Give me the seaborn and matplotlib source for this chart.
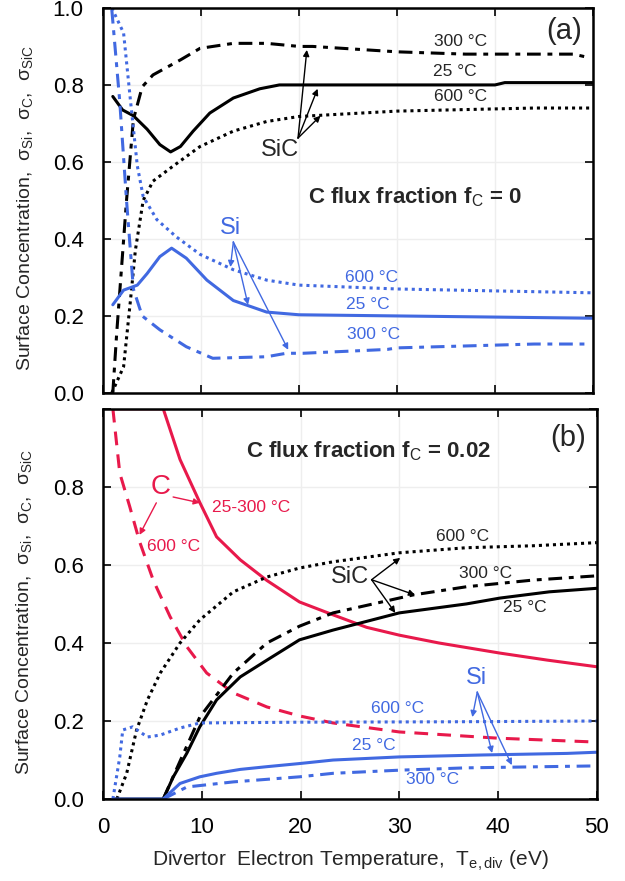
import numpy as np
import pandas as pd
import matplotlib
matplotlib.use("Agg")
import matplotlib.pyplot as plt
import seaborn as sns

sns.set_theme(style="white")
plt.rcParams['font.family'] = ['Liberation Sans', 'DejaVu Sans']
plt.rcParams['mathtext.fontset'] = 'custom'
plt.rcParams['mathtext.rm'] = 'Liberation Sans'
plt.rcParams['mathtext.it'] = 'Liberation Sans:italic'
plt.rcParams['mathtext.bf'] = 'Liberation Sans:bold'

BLUE = "#4169E1"
RED = "#E8194B"
BLACK = "#000000"

# ---------------- Panel (a): C flux fraction fC = 0 ----------------
a_sic25_x = [1.0, 2.0, 3.1, 4.5, 5.8, 6.9, 7.9, 9.2, 10.9, 13.3, 16.0, 18.0, 25.0, 40.0, 41.0, 50.0]
a_sic25_y = [0.77, 0.735, 0.72, 0.685, 0.645, 0.626, 0.64, 0.68, 0.727, 0.766, 0.79, 0.80, 0.80, 0.80, 0.806, 0.806]

a_sic300_x = [1.0, 1.4, 2.4, 3.1, 4.0, 5.1, 7.9, 9.9, 13.3, 16.7, 20.0, 21.4, 30.0, 37.0, 48.0, 49.4]
a_sic300_y = [0.0, 0.156, 0.50, 0.71, 0.795, 0.826, 0.865, 0.895, 0.908, 0.908, 0.90, 0.90, 0.886, 0.88, 0.88, 0.872]

a_sic600_x = [0.9, 2.1, 2.8, 3.3, 4.1, 5.1, 7.2, 9.9, 13.3, 16.7, 20.0, 22.8, 30.0, 44.0, 50.0]
a_sic600_y = [0.0, 0.068, 0.24, 0.37, 0.50, 0.55, 0.59, 0.64, 0.68, 0.705, 0.718, 0.722, 0.732, 0.74, 0.74]

a_si25_x = [1.0, 2.1, 3.5, 4.5, 5.8, 7.0, 8.5, 10.6, 13.3, 16.7, 20.0, 30.0, 40.0, 50.0]
a_si25_y = [0.229, 0.267, 0.28, 0.31, 0.354, 0.376, 0.35, 0.293, 0.24, 0.21, 0.203, 0.20, 0.197, 0.194]

a_si300_x = [0.9, 1.7, 2.4, 3.1, 4.0, 5.8, 8.5, 11.2, 16.7, 18.7, 20.4, 29.0, 30.0, 44.0, 49.4]
a_si300_y = [0.995, 0.76, 0.50, 0.27, 0.20, 0.164, 0.12, 0.09, 0.094, 0.103, 0.103, 0.113, 0.117, 0.127, 0.127]

a_si600_x = [0.9, 2.1, 2.8, 3.5, 4.1, 5.5, 7.5, 9.9, 13.3, 16.7, 20.0, 30.0, 40.0, 50.0]
a_si600_y = [1.0, 0.935, 0.76, 0.59, 0.51, 0.45, 0.405, 0.36, 0.32, 0.293, 0.28, 0.27, 0.265, 0.26]

# ---------------- Panel (b): C flux fraction fC = 0.02 ----------------
b_c25_x = [1.0, 6.1, 7.8, 9.8, 11.5, 13.9, 16.6, 19.9, 23.3, 26.7, 30.0, 34.0, 40.2, 45.0, 50.0]
b_c25_y = [1.0, 1.0, 0.87, 0.76, 0.672, 0.613, 0.56, 0.505, 0.472, 0.44, 0.42, 0.40, 0.374, 0.356, 0.339]

b_c600_x = [1.0, 1.7, 2.7, 3.7, 5.1, 6.8, 8.5, 10.5, 13.2, 16.6, 19.9, 23.3, 30.0, 40.0, 50.0]
b_c600_y = [1.0, 0.835, 0.75, 0.66, 0.56, 0.467, 0.39, 0.323, 0.272, 0.236, 0.213, 0.195, 0.172, 0.156, 0.146]

b_sic25_x = [1.0, 6.1, 7.1, 8.5, 9.8, 11.5, 13.9, 16.6, 19.9, 23.3, 30.0, 36.8, 40.2, 45.2, 50.0]
b_sic25_y = [0.0, 0.0, 0.056, 0.118, 0.185, 0.254, 0.313, 0.356, 0.408, 0.433, 0.477, 0.50, 0.515, 0.531, 0.54]

b_sic300_x = [6.1, 7.5, 9.8, 13.2, 16.6, 19.9, 23.3, 31.4, 36.8, 43.5, 50.0]
b_sic300_y = [0.0, 0.08, 0.21, 0.323, 0.40, 0.443, 0.477, 0.523, 0.544, 0.561, 0.572]

b_sic600_x = [1.4, 2.4, 3.4, 4.5, 5.8, 7.8, 9.8, 13.2, 16.6, 19.9, 23.3, 30.0, 36.8, 43.5, 50.0]
b_sic600_y = [0.0, 0.066, 0.177, 0.254, 0.323, 0.40, 0.459, 0.531, 0.569, 0.592, 0.608, 0.631, 0.644, 0.649, 0.657]

b_si600_x = [1.0, 1.7, 2.0, 3.0, 4.5, 5.8, 7.8, 9.8, 20.0, 35.0, 50.0]
b_si600_y = [0.0, 0.108, 0.177, 0.185, 0.159, 0.164, 0.182, 0.195, 0.197, 0.198, 0.20]

b_si25_x = [1.0, 6.1, 7.8, 9.8, 11.5, 13.9, 16.6, 19.9, 23.3, 30.0, 38.5, 47.0, 50.0]
b_si25_y = [0.0, 0.0, 0.04, 0.057, 0.066, 0.076, 0.083, 0.091, 0.10, 0.108, 0.113, 0.117, 0.12]

b_si300_x = [6.1, 8.5, 13.2, 19.9, 23.3, 30.0, 36.8, 50.0]
b_si300_y = [0.0, 0.031, 0.044, 0.057, 0.066, 0.074, 0.08, 0.085]

x_ticks = [0, 10, 20, 30, 40, 50]
y_ticks = [0.0, 0.2, 0.4, 0.6, 0.8, 1.0]
y_ticklabels_a = ["0.0", "0.2", "0.4", "0.6", "0.8", "1.0"]
y_ticklabels_b = ["0.0", "0.2", "0.4", "0.6", "0.8", ""]

DOT = (0, (1.0, 1.3))
DASHDOT = (0, (4.5, 2.2, 1.6, 2.2))
DASH = (0, (4.5, 3.0))
LW = 2.2

fig = plt.figure(figsize=(6.25, 8.81), dpi=100)
ax_a = fig.add_axes([0.1648, 0.554, 0.784, 0.437])
ax_b = fig.add_axes([0.1648, 0.093, 0.790, 0.443])

def line(ax, x, y, color, ls):
    df = pd.DataFrame({"x": x, "y": y})
    sns.lineplot(data=df, x="x", y="y", ax=ax, color=color, linestyle=ls,
                 linewidth=LW, sort=False, estimator=None, clip_on=True)

line(ax_a, a_sic25_x, a_sic25_y, BLACK, "-")
line(ax_a, a_sic300_x, a_sic300_y, BLACK, DASHDOT)
line(ax_a, a_sic600_x, a_sic600_y, BLACK, DOT)
line(ax_a, a_si25_x, a_si25_y, BLUE, "-")
line(ax_a, a_si300_x, a_si300_y, BLUE, DASHDOT)
line(ax_a, a_si600_x, a_si600_y, BLUE, DOT)

line(ax_b, b_c25_x, b_c25_y, RED, "-")
line(ax_b, b_c600_x, b_c600_y, RED, DASH)
line(ax_b, b_sic600_x, b_sic600_y, BLACK, DOT)
line(ax_b, b_sic300_x, b_sic300_y, BLACK, DASHDOT)
line(ax_b, b_sic25_x, b_sic25_y, BLACK, "-")
line(ax_b, b_si600_x, b_si600_y, BLUE, DOT)
line(ax_b, b_si25_x, b_si25_y, BLUE, "-")
line(ax_b, b_si300_x, b_si300_y, BLUE, DASHDOT)

ylabel = "Surface Concentration,  σ$_{\\rm Si}$,  σ$_{\\rm C}$,  σ$_{\\rm SiC}$"
for ax, ylabs in ((ax_a, y_ticklabels_a), (ax_b, y_ticklabels_b)):
    ax.set_xlim(0, 50)
    ax.set_ylim(0, 1.0)
    ax.set_xticks(x_ticks)
    ax.set_yticks(y_ticks)
    ax.set_yticklabels(ylabs)
    ax.grid(True, color="#eeeeee", linewidth=1.0)
    ax.set_axisbelow(True)
    ax.tick_params(direction="in", length=6, width=1.2, top=True, right=True,
                   left=True, bottom=True, labelsize=16, colors="black")
    ax.tick_params(axis="y", pad=14)
    ax.tick_params(axis="x", pad=13)
    for s in ax.spines.values():
        s.set_color("black")
        s.set_linewidth(1.8)
    ax.set_ylabel(ylabel, fontsize=14)
    ax.yaxis.set_label_coords(-0.139, 0.48)

ax_a.set_xticklabels([])
ax_a.set_xlabel("")
ax_b.set_xlabel("Divertor  Electron Temperature,  T$_{\\rm e,div}$ (eV)", fontsize=15, labelpad=8)

arrow_kw = dict(arrowstyle="-|>", lw=1.0, mutation_scale=9, shrinkA=0, shrinkB=0)

# ---- annotations (a)
ax_a.text(47.1, 0.94, "(a)", fontsize=21, ha="center", va="center")
ax_a.text(36.5, 0.912, "300 °C", fontsize=12.5, ha="center", va="center")
ax_a.text(35.9, 0.834, "25 °C", fontsize=12.5, ha="center", va="center")
ax_a.text(36.5, 0.769, "600 °C", fontsize=12.5, ha="center", va="center")
ax_a.text(18.1, 0.631, "SiC", fontsize=17, ha="center", va="center")
for tx, ty in ((20.8, 0.891), (21.9, 0.79), (22.2, 0.72)):
    ax_a.annotate("", xy=(tx, ty), xytext=(19.9, 0.662), arrowprops=dict(color="black", **arrow_kw))
ax_a.text(20.9, 0.509, "C flux fraction f$_{\\rm C}$ = 0", fontsize=16, fontweight="bold",
          ha="left", va="center")
ax_a.text(13.0, 0.429, "Si", fontsize=17, color=BLUE, ha="center", va="center")
for tx, ty in ((13.0, 0.327), (14.8, 0.229), (18.9, 0.112)):
    ax_a.annotate("", xy=(tx, ty), xytext=(13.3, 0.392), arrowprops=dict(color=BLUE, **arrow_kw))
ax_a.text(27.4, 0.301, "600 °C", fontsize=12.5, color=BLUE, ha="center", va="center")
ax_a.text(27.0, 0.229, "25 °C", fontsize=12.5, color=BLUE, ha="center", va="center")
ax_a.text(27.6, 0.151, "300 °C", fontsize=12.5, color=BLUE, ha="center", va="center")

# ---- annotations (b)
ax_b.text(47.1, 0.925, "(b)", fontsize=21, ha="center", va="center")
ax_b.text(14.5, 0.892, "C flux fraction f$_{\\rm C}$ = 0.02", fontsize=16, fontweight="bold",
          ha="left", va="center")
ax_b.text(5.8, 0.80, "C", fontsize=20, color=RED, ha="center", va="center")
ax_b.annotate("", xy=(9.8, 0.759), xytext=(7.1, 0.774), arrowprops=dict(color=RED, **arrow_kw))
ax_b.annotate("", xy=(3.7, 0.677), xytext=(5.4, 0.759), arrowprops=dict(color=RED, **arrow_kw))
ax_b.text(11.0, 0.746, "25-300 °C", fontsize=12.5, color=RED, ha="left", va="center")
ax_b.text(4.45, 0.646, "600 °C", fontsize=12.5, color=RED, ha="left", va="center")
ax_b.text(25.0, 0.569, "SiC", fontsize=17, ha="center", va="center")
for tx, ty in ((30.1, 0.618), (31.6, 0.523), (29.6, 0.477)):
    ax_b.annotate("", xy=(tx, ty), xytext=(27.2, 0.562), arrowprops=dict(color="black", **arrow_kw))
ax_b.text(36.4, 0.672, "600 °C", fontsize=12.5, ha="center", va="center")
ax_b.text(38.7, 0.579, "300 °C", fontsize=12.5, ha="center", va="center")
ax_b.text(42.7, 0.49, "25 °C", fontsize=12.5, ha="center", va="center")
ax_b.text(37.8, 0.31, "Si", fontsize=17, color=BLUE, ha="center", va="center")
for tx, ty in ((37.4, 0.21), (39.4, 0.118), (41.4, 0.087)):
    ax_b.annotate("", xy=(tx, ty), xytext=(37.9, 0.274), arrowprops=dict(color=BLUE, **arrow_kw))
ax_b.text(29.8, 0.231, "600 °C", fontsize=12.5, color=BLUE, ha="center", va="center")
ax_b.text(27.4, 0.136, "25 °C", fontsize=12.5, color=BLUE, ha="center", va="center")
ax_b.text(33.4, 0.049, "300 °C", fontsize=12.5, color=BLUE, ha="center", va="center")

fig.savefig("out.png", dpi=100)
